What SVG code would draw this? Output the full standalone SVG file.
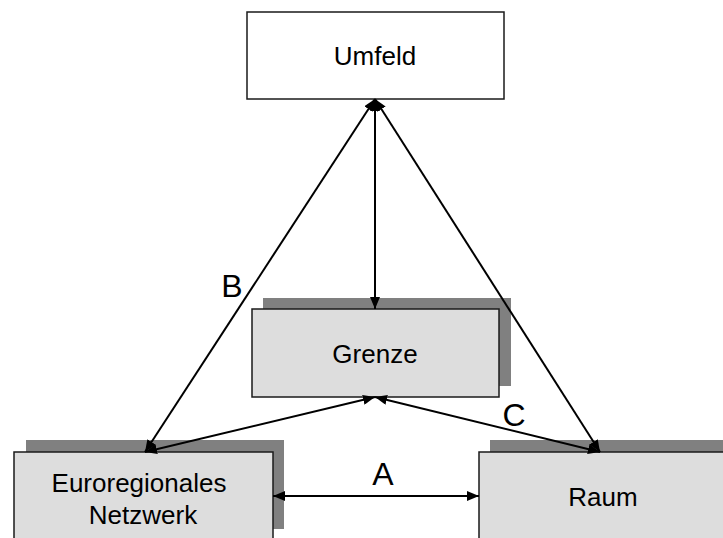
<svg xmlns="http://www.w3.org/2000/svg" width="723" height="538" viewBox="0 0 723 538">
  <defs>
    <marker id="arrow" viewBox="0 0 12 10" refX="12" refY="5" markerWidth="12" markerHeight="10" markerUnits="userSpaceOnUse" orient="auto-start-reverse">
      <path d="M0,0 L12,5 L0,10 z" fill="#000"/>
    </marker>
  </defs>
  <style>
    .box { stroke: #1a1a1a; stroke-width: 1.5; }
    .plain { fill: #ffffff; }
    .grey { fill: #dddddd; }
    .shadow { fill: #808080; }
    .label { font-family: "Liberation Sans", Arial, sans-serif; font-size: 26px; fill: #000; text-anchor: middle; }
    .tag { font-family: "Liberation Sans", Arial, sans-serif; font-size: 32px; fill: #000; text-anchor: middle; }
    .conn { stroke: #000; stroke-width: 2; fill: none; marker-start: url(#arrow); marker-end: url(#arrow); }
  </style>

  <rect width="723" height="538" fill="#ffffff"/>

  <!-- Nodes -->
  <g id="umfeld">
    <rect class="box plain" x="247" y="12" width="257" height="87"/>
    <text class="label" x="375" y="65">Umfeld</text>
  </g>

  <g id="grenze">
    <rect class="shadow" x="263" y="298" width="248" height="88"/>
    <rect class="box grey" x="252" y="309" width="247" height="88"/>
    <text class="label" x="375" y="363">Grenze</text>
  </g>

  <g id="euroregionales-netzwerk">
    <rect class="shadow" x="26" y="440" width="258" height="89"/>
    <rect class="box grey" x="14" y="452" width="259" height="100"/>
    <text class="label" x="139" y="492">Euroregionales</text>
    <text class="label" x="143" y="524">Netzwerk</text>
  </g>

  <g id="raum">
    <rect class="shadow" x="490" y="440" width="260" height="89"/>
    <rect class="box grey" x="479" y="452" width="260" height="100"/>
    <text class="label" x="603" y="506">Raum</text>
  </g>

  <!-- Connectors -->
  <g id="connectors">
    <line class="conn" x1="375" y1="99" x2="375" y2="309"/>
    <line class="conn" x1="375" y1="99" x2="145" y2="452"/>
    <line class="conn" x1="375" y1="99" x2="600" y2="452"/>
    <line class="conn" x1="375" y1="397" x2="145" y2="452"/>
    <line class="conn" x1="375" y1="397" x2="600" y2="452"/>
    <line class="conn" x1="273" y1="496" x2="479" y2="496"/>
    <text class="tag" x="232" y="297">B</text>
    <text class="tag" x="383" y="485">A</text>
    <text class="tag" x="514" y="426">C</text>
  </g>
</svg>
